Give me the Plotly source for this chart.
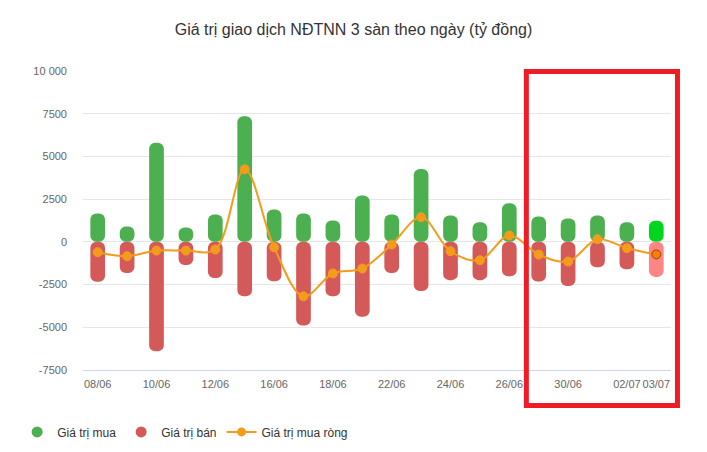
import plotly.graph_objects as go

dates = ["08/06", "09/06", "10/06", "11/06", "12/06", "15/06", "16/06", "17/06", "18/06", "19/06",
         "22/06", "23/06", "24/06", "25/06", "26/06", "29/06", "30/06", "01/07", "02/07", "03/07"]
buy = [1660, 900, 5800, 840, 1600, 7350, 1890, 1660, 1250, 2710,
       1600, 4270, 1540, 1150, 2260, 1480, 1370, 1540, 1150, 1230]
sell = [-2340, -1830, -6400, -1360, -2120, -3180, -2300, -4900, -3180, -4390,
        -1830, -2870, -2240, -2240, -2010, -2320, -2590, -1480, -1600, -2050]
net = [-605, -840, -510, -510, -450, 4250, -320, -3190, -1850, -1560,
       -160, 1440, -550, -1075, 370, -740, -1150, 150, -370, -730]

tick_dates = ["08/06", "10/06", "12/06", "16/06", "18/06", "22/06", "24/06", "26/06", "30/06", "02/07", "03/07"]
y_ticks = [10000, 7500, 5000, 2500, 0, -2500, -5000, -7500]
y_tick_text = ["10 000", "7500", "5000", "2500", "0", "-2500", "-5000", "-7500"]

title = "Giá trị giao dịch NĐTNN 3 sàn theo ngày (tỷ đồng)"
names = ["Giá trị mua", "Giá trị bán", "Giá trị mua ròng"]

GREEN = "#4caf50"
RED = "#d45a5a"
ORANGE = "#f39c1b"
GREEN_HI = "#00d61e"
RED_HI = "#ff8585"

n = len(dates)
green_cols = [GREEN] * (n - 1) + [GREEN_HI]
red_cols = [RED] * (n - 1) + [RED_HI]

fig = go.Figure()

fig.add_trace(go.Bar(x=dates, y=buy, base=[0] * n, width=0.5, name=names[0],
                     marker=dict(color=green_cols, line=dict(width=0), cornerradius=6),
                     showlegend=False, hoverinfo="skip"))
fig.add_trace(go.Bar(x=dates, y=sell, base=[0] * n, width=0.5, name=names[1],
                     marker=dict(color=red_cols, line=dict(width=0), cornerradius=6),
                     showlegend=False, hoverinfo="skip"))

marker_cols = [ORANGE] * (n - 1) + ["#ff7a00"]
marker_line_cols = [ORANGE] * (n - 1) + ["#8a4a10"]
fig.add_trace(go.Scatter(x=dates, y=net, mode="lines+markers", name=names[2],
                         line=dict(color=ORANGE, width=2, shape="spline", smoothing=1.0),
                         marker=dict(size=9, color=marker_cols,
                                     line=dict(color=marker_line_cols, width=1)),
                         showlegend=False))

# legend entries
fig.add_trace(go.Scatter(x=[None], y=[None], mode="markers", name=names[0],
                         marker=dict(size=11, color=GREEN, symbol="circle")))
fig.add_trace(go.Scatter(x=[None], y=[None], mode="markers", name=names[1],
                         marker=dict(size=11, color=RED, symbol="circle")))
fig.add_trace(go.Scatter(x=[None], y=[None], mode="lines+markers", name=names[2],
                         line=dict(color=ORANGE, width=2),
                         marker=dict(size=9, color=ORANGE)))

fig.update_layout(
    width=707, height=452,
    margin=dict(l=83, r=36, t=71, b=82, autoexpand=False),
    paper_bgcolor="white", plot_bgcolor="white",
    barmode="overlay",
    font=dict(family="Liberation Sans, Arial, sans-serif", size=11, color="#666666"),
    title=dict(text=title, x=0.5, xanchor="center", y=0.935, yanchor="middle",
               font=dict(size=16, color="#333333")),
    xaxis=dict(type="category", categoryorder="array", categoryarray=dates,
               range=[-0.5, n - 0.5], automargin=False, tickangle=0,
               tickmode="array", tickvals=tick_dates, ticktext=tick_dates,
               showgrid=False, showline=True, linecolor="#ccd6eb", linewidth=1,
               ticks="", ticklabelstandoff=4,
               tickfont=dict(size=11, color="#666666"), fixedrange=True),
    yaxis=dict(range=[-7500, 10000], tickmode="array", tickvals=y_ticks, ticktext=y_tick_text,
               showgrid=True, gridcolor="#e6e6e6", gridwidth=1, zeroline=False,
               showline=False, ticks="", ticklabelstandoff=15, automargin=False,
               tickfont=dict(size=11, color="#666666"), fixedrange=True),
    legend=dict(orientation="h", x=-0.112, xanchor="left", y=-0.207, yanchor="middle",
                font=dict(size=12, color="#333333"), itemwidth=30, traceorder="normal",
                bgcolor="rgba(0,0,0,0)"),
    showlegend=True,
    shapes=[dict(type="rect", xref="paper", yref="paper",
                 x0=0.754, x1=1.011, y0=-0.119, y1=0.998,
                 line=dict(color="#ee1c25", width=5), fillcolor="rgba(0,0,0,0)")],
)

fig.write_html("out.html")
